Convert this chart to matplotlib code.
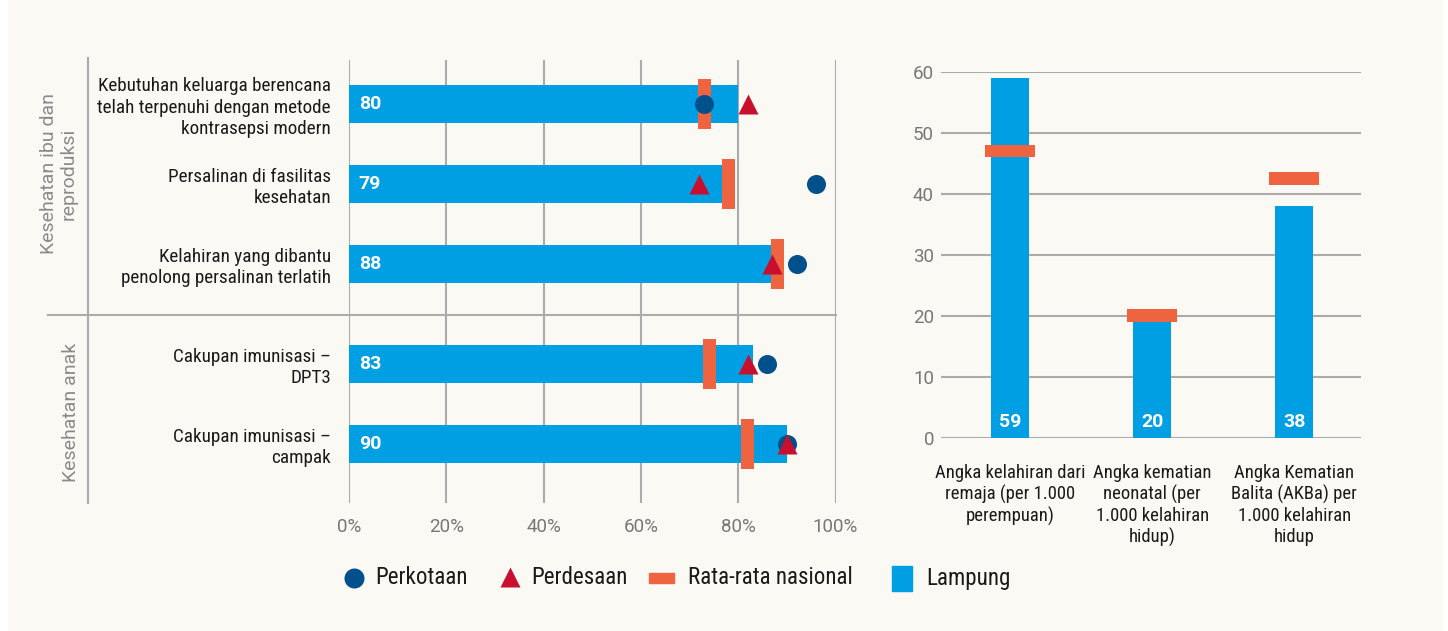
import matplotlib
matplotlib.use("Agg")
import matplotlib.pyplot as plt
from matplotlib import font_manager as fm
from matplotlib.patches import Rectangle
import matplotlib.transforms as mtransforms

# --- data -------------------------------------------------------------
left_labels = [
    "Kebutuhan keluarga berencana\ntelah terpenuhi dengan metode\nkontrasepsi modern",
    "Persalinan di fasilitas\nkesehatan",
    "Kelahiran yang dibantu\npenolong persalinan terlatih",
    "Cakupan imunisasi \u2013\nDPT3",
    "Cakupan imunisasi \u2013\ncampak",
]
lampung_pct = [80, 79, 88, 83, 90]
nasional_pct = [73, 78, 88, 74, 82]
perkotaan_pct = [73, 96, 92, 86, 90]
perdesaan_pct = [82, 72, 87, 82, 90]
x_ticks = [0, 20, 40, 60, 80, 100]

group_labels = ["Kesehatan ibu dan\nreproduksi", "Kesehatan anak"]

right_labels = [
    "Angka kelahiran dari\nremaja (per 1.000\nperempuan)",
    "Angka kematian\nneonatal (per\n1.000 kelahiran\nhidup)",
    "Angka Kematian\nBalita (AKBa) per\n1.000 kelahiran\nhidup",
]
lampung_rate = [59, 20, 38]
nasional_rate = [47, 20, 42.5]
y_ticks = [0, 10, 20, 30, 40, 50, 60]

legend_labels = ["Perkotaan", "Perdesaan", "Rata-rata nasional", "Lampung"]

# --- fonts: look for a condensed face, else shrink a regular one -------
def find_narrow():
    prefs = ["Liberation Sans Narrow", "Roboto Condensed", "DejaVu Sans Condensed",
             "Open Sans Condensed", "Noto Sans Condensed"]
    cands = []
    for f in fm.fontManager.ttflist:
        n = f.name.lower()
        st = str(f.stretch).lower()
        if ("narrow" in n or "condensed" in n or "condensed" in st or "narrow" in st) \
                and f.style == "normal" and str(f.weight) in ("400", "normal", "regular", "book"):
            cands.append(f)
    for p in prefs:
        for f in cands:
            if f.name == p:
                return f.fname
    for f in cands:
        if "dejavu sans" in f.name.lower() and "mono" not in f.name.lower():
            return f.fname
    return cands[0].fname if cands else None

narrow_file = find_narrow()
if narrow_file:
    NARROW = dict(fontproperties=fm.FontProperties(fname=narrow_file))
    NS = 1.0
else:
    NARROW = dict(fontproperties=fm.FontProperties(family=["Roboto", "DejaVu Sans"]))
    NS = 0.8

# --- style ------------------------------------------------------------
BLUE = "#009FE3"
ORANGE = "#EE6441"
NAVY = "#00508C"
RED = "#C8102E"
GRID = "#ABABAB"
BG = "#FBF9F4"
TICK = "#777777"
PLAIN = ["Roboto", "DejaVu Sans"]

W, H = 1448, 631
fig = plt.figure(figsize=(W / 100, H / 100), dpi=100, facecolor="white")
fig.patches.append(Rectangle((8 / W, 0), (1443 - 8) / W, 1, transform=fig.transFigure,
                             facecolor=BG, edgecolor="none", zorder=-10))

# --- left panel -------------------------------------------------------
ax = fig.add_axes([349 / W, 1 - 503 / H, 486.5 / W, 443 / H])
ax.set_facecolor("none")
rows = [0, 1, 2, 3.25, 4.25]
ax.set_xlim(0, 100)
ax.set_ylim(4.99, -0.55)
for s in ax.spines.values():
    s.set_visible(False)
for t in x_ticks:
    ax.axvline(t, color=GRID, lw=1.5, zorder=0)

ax.barh(rows, lampung_pct, height=0.475, color=BLUE, zorder=2)
ax.barh(rows, 2.67, left=[v - 1.335 for v in nasional_pct], height=0.625,
        color=ORANGE, zorder=3)
ax.plot(perkotaan_pct, rows, "o", ms=13.7, color=NAVY, mec="none", zorder=4)
ax.plot(perdesaan_pct, rows, "^", ms=14.5, color=RED, mec="none", zorder=5)
for y, v in zip(rows, lampung_pct):
    ax.text(2.0, y, str(v), color="white", fontsize=14, fontweight="bold",
            family=PLAIN, va="center", ha="left", zorder=6)

ax.set_yticks(rows)
ax.set_yticklabels(left_labels, color="#1a1a1a", linespacing=1.25, **NARROW)
for t in ax.get_yticklabels():
    t.set_fontsize(13.8 * NS)
ax.tick_params(axis="y", length=0, pad=13)
ax.set_xticks(x_ticks)
ax.set_xticklabels([f"{t}%" for t in x_ticks], family=PLAIN, fontsize=13.5, color=TICK)
ax.tick_params(axis="x", length=0, pad=11)

# separators
bt = mtransforms.blended_transform_factory(ax.transAxes, ax.transData)
ax.plot([(48 - 349) / 486.5, 1], [2.64, 2.64], color=GRID, lw=1.5,
        transform=bt, clip_on=False, zorder=0)
ax.plot([(88 - 349) / 486.5] * 2, [0, 1.005], color=GRID, lw=1.5,
        transform=ax.transAxes, clip_on=False, zorder=0)

ax.text(-0.596, 1 - (174 - 60) / 443, group_labels[0], transform=ax.transAxes, rotation=90,
        ha="center", va="center", family=PLAIN, fontsize=14, color="#8a8a8a",
        linespacing=1.1)
ax.text(-0.572, 1 - (412 - 60) / 443, group_labels[1], transform=ax.transAxes, rotation=90,
        ha="center", va="center", family=PLAIN, fontsize=14, color="#8a8a8a")

# --- right panel ------------------------------------------------------
ax2 = fig.add_axes([941 / W, 1 - 437.7 / H, 420 / W, 366 / H])
ax2.set_facecolor("none")
xs = list(range(len(lampung_rate)))
ax2.set_xlim(-0.486, 2.47)
ax2.set_ylim(0, 60)
for s in ax2.spines.values():
    s.set_visible(False)
for t in y_ticks:
    ax2.axhline(t, color=GRID, lw=1.5, zorder=0)
ax2.bar(xs, lampung_rate, width=0.268, color=BLUE, zorder=2)
ax2.bar(xs, 2.13, bottom=[v - 1.065 for v in nasional_rate], width=0.352,
        color=ORANGE, zorder=3)
for x, v in zip(xs, lampung_rate):
    ax2.text(x, 2.6, str(v), color="white", fontsize=14, fontweight="bold",
             family=PLAIN, ha="center", va="center", zorder=6)
ax2.set_yticks(y_ticks)
ax2.set_yticklabels([str(t) for t in y_ticks], family=PLAIN, fontsize=13.5, color=TICK)
ax2.tick_params(axis="y", length=0, pad=5)
ax2.set_xticks([])
bt2 = mtransforms.blended_transform_factory(ax2.transData, ax2.transAxes)
for x, lab in zip(xs, right_labels):
    t = ax2.text(x, -(464 - 437.7) / 366, lab, transform=bt2, ha="center", va="top",
                 color="#1a1a1a", linespacing=1.2, **NARROW)
    t.set_fontsize(13.4 * NS)

# --- legend -----------------------------------------------------------
lg = fig.add_axes([0, 0, 1, 1])
lg.set_xlim(0, W)
lg.set_ylim(H, 0)
lg.axis("off")
ly = 578
lg.plot([354], [ly], "o", ms=14.4, color=NAVY, mec="none")
lg.plot([510], [ly - 1], "^", ms=15, color=RED, mec="none")
lg.add_patch(Rectangle((649, ly - 5), 25, 10, color=ORANGE))
lg.add_patch(Rectangle((892, ly - 12), 20, 25, color=BLUE))
for x, lab in zip([375, 531, 688, 926], legend_labels):
    t = lg.text(x, ly, lab, color="#1a1a1a", va="center", ha="left", **NARROW)
    t.set_fontsize(16.6 * NS)

fig.savefig("out.png", dpi=100, facecolor=fig.get_facecolor())
